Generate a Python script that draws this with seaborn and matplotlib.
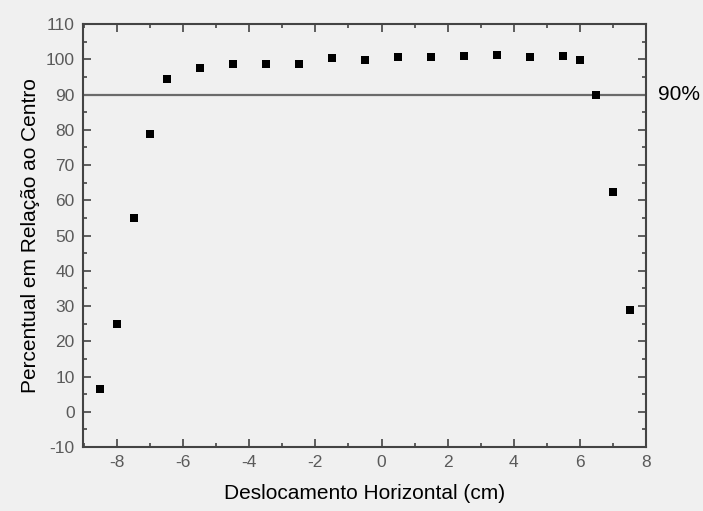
import matplotlib
matplotlib.use("Agg")
import matplotlib.pyplot as plt
import seaborn as sns
import pandas as pd
from matplotlib.ticker import MultipleLocator

# Horizontal displacement (cm) and percentage relative to the centre
deslocamento = [-8.5, -8.0, -7.5, -7.0, -6.5, -5.5, -4.5, -3.5, -2.5, -1.5, -0.5,
                0.5, 1.5, 2.5, 3.5, 4.5, 5.5, 6.0, 6.5, 7.0, 7.5]
percentual = [6.5, 25.0, 55.0, 78.8, 94.5, 97.4, 98.8, 98.8, 98.8, 100.5, 99.9,
              100.7, 100.7, 100.8, 101.2, 100.7, 100.8, 99.9, 89.8, 62.3, 29.0]
limite = 90
x_ticks = [-8, -6, -4, -2, 0, 2, 4, 6, 8]
y_ticks = [-10, 0, 10, 20, 30, 40, 50, 60, 70, 80, 90, 100, 110]

df = pd.DataFrame({"x": deslocamento, "y": percentual})

sns.set_theme(style="white")
plt.rcParams["font.family"] = ["Liberation Sans", "DejaVu Sans"]

bg = "#f0f0f0"
fig = plt.figure(figsize=(7.03, 5.11), dpi=100, facecolor=bg)
ax = fig.add_axes([0.118, 0.125, 0.801, 0.828])
ax.set_facecolor(bg)

ax.axhline(limite, color="#6a6a6a", lw=1.6, zorder=1)
sns.scatterplot(data=df, x="x", y="y", marker="s", s=40, color="black",
                edgecolor="black", linewidth=0, ax=ax, zorder=3)

ax.set_xlim(-9.03, 8)
ax.set_ylim(-10, 110)
ax.set_xticks(x_ticks)
ax.set_yticks(y_ticks)
ax.xaxis.set_minor_locator(MultipleLocator(1))
ax.yaxis.set_minor_locator(MultipleLocator(5))
ax.set_xticklabels([str(t) for t in x_ticks])
ax.set_yticklabels([str(t) for t in y_ticks])

ax.tick_params(which="both", direction="in", top=True, right=True,
               bottom=True, left=True, color="#444444", width=1.2)
ax.tick_params(which="major", length=6, labelsize=12.5, labelcolor="#5a5a5a", pad=6)
ax.tick_params(which="minor", length=3)

for sp in ax.spines.values():
    sp.set_visible(True)
    sp.set_color("#444444")
    sp.set_linewidth(1.5)

ax.set_xlabel("Deslocamento Horizontal (cm)", fontsize=15, color="black", labelpad=10)
ax.set_ylabel("Percentual em Relação ao Centro", fontsize=15, color="black", labelpad=4)

ax.text(1.022, limite, "90%", transform=ax.get_yaxis_transform(),
        fontsize=15, color="black", va="center", ha="left")

fig.savefig("out.png", dpi=100, facecolor=bg)
